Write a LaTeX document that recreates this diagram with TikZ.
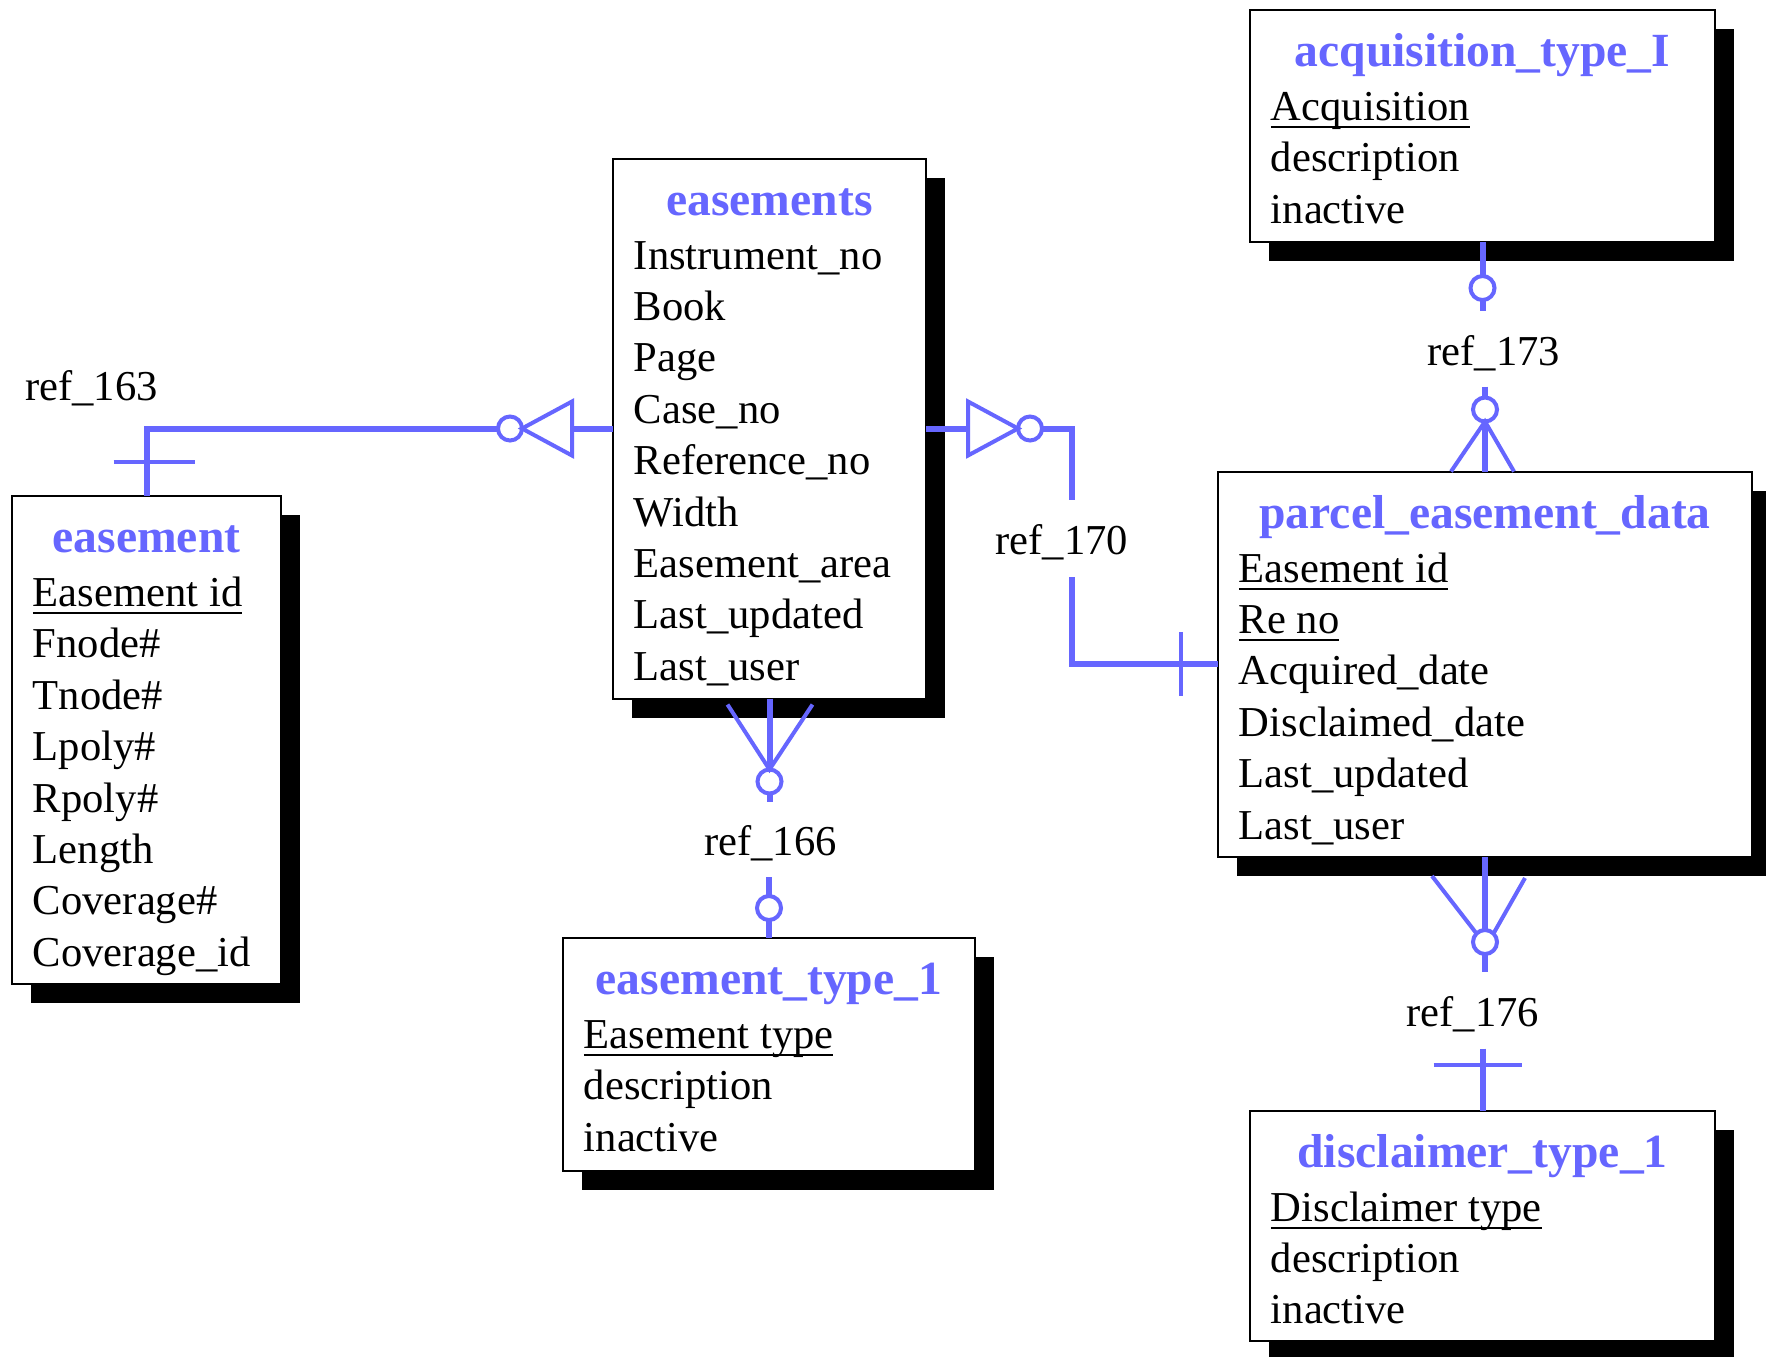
\documentclass[tikz,border=0pt]{standalone}
\usepackage{fontspec}
\setmainfont{Liberation Serif}
\usetikzlibrary{calc}
\definecolor{erblue}{HTML}{6666FF}

% key attribute: underlined at a fixed depth
\newcommand\pk[1]{\setbox0\hbox{#1}\rlap{\rule[-3.8pt]{\wd0}{0.9pt}}\box0}

\tikzset{
  shadowbox/.style={fill=black, inner sep=0, outer sep=0},
  entitybox/.style={draw=black, line width=1pt, fill=white, inner sep=0, outer sep=0},
  etitle/.style={anchor=base, inner sep=0, text=erblue, font=\fontsize{23.8}{28}\selectfont\bfseries},
  eattr/.style={anchor=base west, inner sep=0, font=\fontsize{21.3}{25.6}\selectfont},
  rlabel/.style={anchor=base west, inner sep=0, font=\fontsize{21.3}{25.6}\selectfont},
  heavy/.style={draw=erblue, line width=3pt},
  light/.style={draw=erblue, line width=2pt},
  ocircle/.style={circle, draw=erblue, line width=2pt, fill=white, minimum size=12pt, inner sep=0, outer sep=0},
}

% entity: name, x0, y0, x1, y1, title, attributes
\newcommand\erbox[7]{%
  \node[shadowbox, minimum width={(#4-#2)*0.5pt}, minimum height={(#5-#3)*0.5pt}] at ({(#2+#4)/2+19},{(#3+#5)/2+19}) {};
  \node[entitybox, minimum width={(#4-#2)*0.5pt}, minimum height={(#5-#3)*0.5pt}] (#1) at ({(#2+#4)/2},{(#3+#5)/2}) {};
  \node[etitle] (#1-t) at ({(#2+#4)/2},{#3+56.7}) {#6};
  \foreach \a [count=\i from 0] in {#7} {\node[eattr] (#1-a\i) at ({#2+20.5},{#3+110.5+51.4*\i}) {\a};}
}

\begin{document}
\begin{tikzpicture}[x=0.5pt,y=-0.5pt]
\fill[white] (0,0) rectangle (1766,1356);
\useasboundingbox (0,0) rectangle (1766,1356);

\erbox{easement}{12}{496}{281}{984}{easement}{\pk{Easement id},Fnode\#,Tnode\#,Lpoly\#,Rpoly\#,Length,Coverage\#,Coverage\_id}
\erbox{easements}{613}{158.5}{926}{698.5}{easements}{Instrument\_no,Book,Page,Case\_no,Reference\_no,Width,Easement\_area,Last\_updated,Last\_user}
\erbox{etype}{563}{938}{975}{1171}{easement\_type\_1}{\pk{Easement type},description,inactive}
\erbox{acq}{1250}{10}{1715}{242}{acquisition\_type\_I}{\pk{Acquisition},description,inactive}
\erbox{parcel}{1218}{471.5}{1752}{857}{parcel\_easement\_data}{\pk{Easement id},\pk{Re no},Acquired\_date,Disclaimed\_date,Last\_updated,Last\_user}
\erbox{disc}{1250}{1110.5}{1715}{1341}{disclaimer\_type\_1}{\pk{Disclaimer type},description,inactive}

% ref_163: easements (many, optional) -- easement (one)
\node[ocircle] (c163) at ($(easements.west)+(-103,0)$) {};
\draw[heavy] (easements.west) -- ++(-40,0);
\draw[light] (c163.east) -- ++(50,-27) -- ++(0,54) -- cycle;
\draw[heavy] (c163.west) -| (easement.north);
\draw[light] ($(easement.north)+(-33,-34)$) -- ++(81,0);
\node[rlabel] (l163) at (25,400) {ref\_163};

% ref_170: easements -- parcel_easement_data
\node[ocircle] (c170) at ($(easements.east)+(104,0)$) {};
\draw[heavy] (easements.east) -- ++(41,0);
\draw[light] (c170.west) -- ++(-50,-27) -- ++(0,54) -- cycle;
\coordinate (g170a) at (1072,500);
\coordinate (g170b) at (1072,577);
\draw[heavy] (c170.east) -| (g170a);
\draw[heavy] (g170b) |- (parcel.west);
\draw[light] ($(parcel.west)+(-37,-32)$) -- ++(0,64);
\node[rlabel] (l170) at (995,554) {ref\_170};

% ref_173: acquisition_type_I -- parcel_easement_data
\node[ocircle] (c173a) at ($(acq.south)+(0,46)$) {};
\coordinate (g173a) at ($(acq.south)+(0,69)$);
\draw[heavy] (acq.south) -- (c173a.north);
\draw[heavy] (c173a.south) -- (g173a);
\node[rlabel] (l173) at (1427,365) {ref\_173};
\node[ocircle] (c173b) at ($(parcel.north)+(0,-62)$) {};
\coordinate (g173b) at ($(parcel.north)+(0,-85)$);
\draw[heavy] (g173b) -- (c173b.north);
\draw[heavy] (c173b.south) -- (parcel.north);
\draw[light] ($(parcel.north)+(-34,0)$) -- (c173b.south) -- ($(parcel.north)+(29,0)$);

% ref_166: easements -- easement_type_1
\node[ocircle] (c166a) at ($(easements.south)+(0,83)$) {};
\draw[heavy] (easements.south) -- (c166a.north);
\draw[light] ($(easements.south)+(-42,6)$) -- (c166a.north) -- ($(easements.south)+(43,6)$);
\coordinate (g166a) at ($(easements.south)+(0,103.5)$);
\draw[heavy] (c166a.south) -- (g166a);
\node[rlabel] (l166) at (704,855) {ref\_166};
\node[ocircle] (c166b) at ($(etype.north)+(0,-30)$) {};
\coordinate (g166b) at ($(etype.north)+(0,-61)$);
\draw[heavy] (g166b) -- (c166b.north);
\draw[heavy] (c166b.south) -- (etype.north);

% ref_176: parcel_easement_data -- disclaimer_type_1
\node[ocircle] (c176) at ($(parcel.south)+(0,85)$) {};
\draw[heavy] (parcel.south) -- (c176.north);
\draw[light] ($(parcel.south)+(-53,19)$) -- (c176.135);
\draw[light] ($(parcel.south)+(40,21)$) -- (c176.45);
\coordinate (g176a) at ($(parcel.south)+(0,115)$);
\draw[heavy] (c176.south) -- (g176a);
\node[rlabel] (l176) at (1406,1026) {ref\_176};
\coordinate (g176b) at ($(disc.north)+(0,-62)$);
\draw[heavy] (g176b) -- (disc.north);
\draw[light] ($(disc.north)+(-49,-46)$) -- ++(88,0);
\end{tikzpicture}
\end{document}
